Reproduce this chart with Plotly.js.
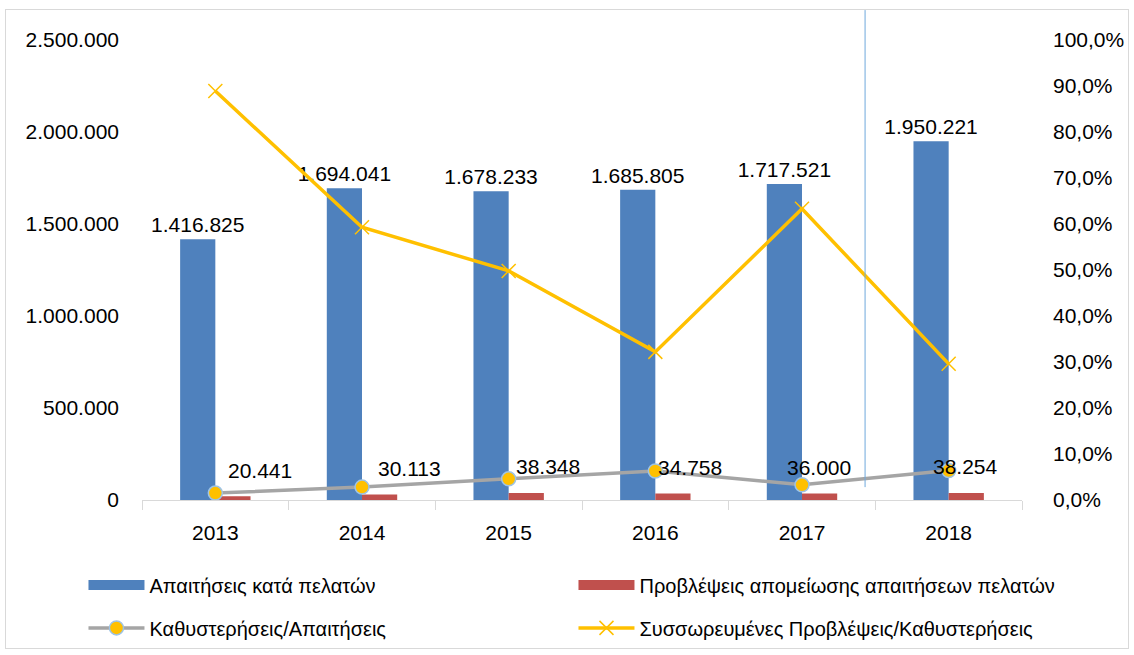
<!DOCTYPE html>
<html>
<head>
<meta charset="utf-8">
<script src="https://cdn.plot.ly/plotly-3.0.1.min.js"></script>
<style>
  html, body { margin: 0; padding: 0; background: #fff; }
  #wrap { position: relative; width: 1134px; height: 655px; }
  #chart { width: 1134px; height: 655px; }
  #frame { position: absolute; left: 5px; top: 9px; width: 1124px; height: 640px;
           border: 1px solid #D9D9D9; pointer-events: none; box-sizing: border-box; }
</style>
</head>
<body>
<div id="wrap"><div id="chart"></div><div id="frame"></div></div>
<script>
const years = ['2013', '2014', '2015', '2016', '2017', '2018'];
const receivables = [1416825, 1694041, 1678233, 1685805, 1717521, 1950221];
const provisions = [20441, 30113, 38348, 34758, 36000, 38254];
const delaysRatio = [0.015, 0.028, 0.046, 0.063, 0.033, 0.064];
const cumulativeRatio = [0.889, 0.593, 0.498, 0.322, 0.633, 0.296];

const seriesNames = [
  'Απαιτήσεις κατά πελατών',
  'Προβλέψεις απομείωσης απαιτήσεων πελατών',
  'Καθυστερήσεις/Απαιτήσεις',
  'Συσσωρευμένες Προβλέψεις/Καθυστερήσεις'
];
const barColors = ['#4F81BD', '#C0504D'];

// label horizontal nudges (styling only)
const provLabelDx = [28, 30, 22, 18, 0, 0];

function fmt(n) {
  return n.toString().replace(/\B(?=(\d{3})+(?!\d))/g, '.');
}

const FONT = 'Liberation Sans, Arial, sans-serif';

const traces = [
  {
    type: 'bar', name: seriesNames[0], x: years, y: receivables,
    marker: { color: barColors[0] }, showlegend: false, legendgroup: 'a',
    text: receivables.map(fmt), textposition: 'outside', cliponaxis: false,
    constraintext: 'none',
    textfont: { family: FONT, size: 21, color: '#000' }
  },
  {
    type: 'bar', name: seriesNames[1], x: years, y: provisions,
    marker: { color: barColors[1] }, showlegend: false, legendgroup: 'b'
  },
  {
    type: 'scatter', mode: 'lines+markers', name: seriesNames[2], x: years, y: delaysRatio,
    yaxis: 'y2', legend: 'legend2',
    line: { color: '#A5A5A5', width: 3.5 },
    marker: { color: '#FFC000', size: 14, symbol: 'circle', line: { color: '#9DC3E6', width: 1.5 } }
  },
  {
    type: 'scatter', mode: 'lines+markers', name: seriesNames[3], x: years, y: cumulativeRatio,
    yaxis: 'y2', legend: 'legend2',
    line: { color: '#FFC000', width: 3.5 },
    marker: { color: '#FFC000', size: 14, symbol: 'x-thin', line: { color: '#FFC000', width: 1.5 } }
  },
  // legend swatches for the bar series (wide rectangles, as in the original)
  {
    type: 'scatter', mode: 'lines', name: seriesNames[0], x: [null], y: [null],
    legendgroup: 'a', line: { color: barColors[0], width: 12 }, hoverinfo: 'skip'
  },
  {
    type: 'scatter', mode: 'lines', name: seriesNames[1], x: [null], y: [null],
    legendgroup: 'b', line: { color: barColors[1], width: 12 }, hoverinfo: 'skip'
  }
];

const annotations = years.map((yr, i) => ({
  x: i, y: provisions[i], xref: 'x', yref: 'y',
  text: fmt(provisions[i]), showarrow: false,
  xshift: provLabelDx[i] + 17, yshift: 26,
  font: { family: FONT, size: 21, color: '#000' }
}));

const legendCommon = {
  orientation: 'h', xanchor: 'left', yanchor: 'middle',
  entrywidth: 419, entrywidthmode: 'pixels', itemwidth: 56,
  font: { family: FONT, size: 20, color: '#000' },
  traceorder: 'normal', bgcolor: 'rgba(0,0,0,0)'
};

const layout = {
  width: 1134, height: 655,
  margin: { l: 142, r: 112, t: 40, b: 155, autoexpand: false },
  paper_bgcolor: '#fff', plot_bgcolor: '#fff',
  separators: ',.',
  font: { family: FONT, size: 21, color: '#000' },
  barmode: 'group', bargap: 0.52, bargroupgap: 0,
  showlegend: true,
  legend: Object.assign({}, legendCommon, { x: -0.0665, y: -0.185 }),
  legend2: Object.assign({}, legendCommon, { x: -0.0665, y: -0.278 }),
  xaxis: {
    type: 'category', categoryorder: 'array', categoryarray: years,
    range: [-0.5, 5.5], showgrid: false, zeroline: false,
    showline: true, linecolor: '#D9D9D9', linewidth: 1,
    ticks: 'outside', tickson: 'boundaries', ticklen: 9, tickcolor: '#D9D9D9',
    tickfont: { family: FONT, size: 21 }, ticklabelstandoff: 14, tickangle: 0
  },
  yaxis: {
    range: [0, 2500000], dtick: 500000, tickformat: ',d',
    showgrid: false, zeroline: false, showline: false, ticks: '',
    tickfont: { family: FONT, size: 21 }, ticklabelstandoff: 22
  },
  yaxis2: {
    overlaying: 'y', side: 'right', range: [0, 1], dtick: 0.1, tickformat: '.1%',
    showgrid: false, zeroline: false, showline: false, ticks: '',
    tickfont: { family: FONT, size: 21 }, ticklabelstandoff: 30
  },
  shapes: [
    { type: 'line', xref: 'x', yref: 'paper', x0: 4.43, x1: 4.43, y0: 0.028, y1: 1.065,
      line: { color: '#6FA8DC', width: 1 } }
  ],
  annotations: annotations
};

Plotly.newPlot('chart', traces, layout, { displayModeBar: false, staticPlot: true });
</script>
</body>
</html>
